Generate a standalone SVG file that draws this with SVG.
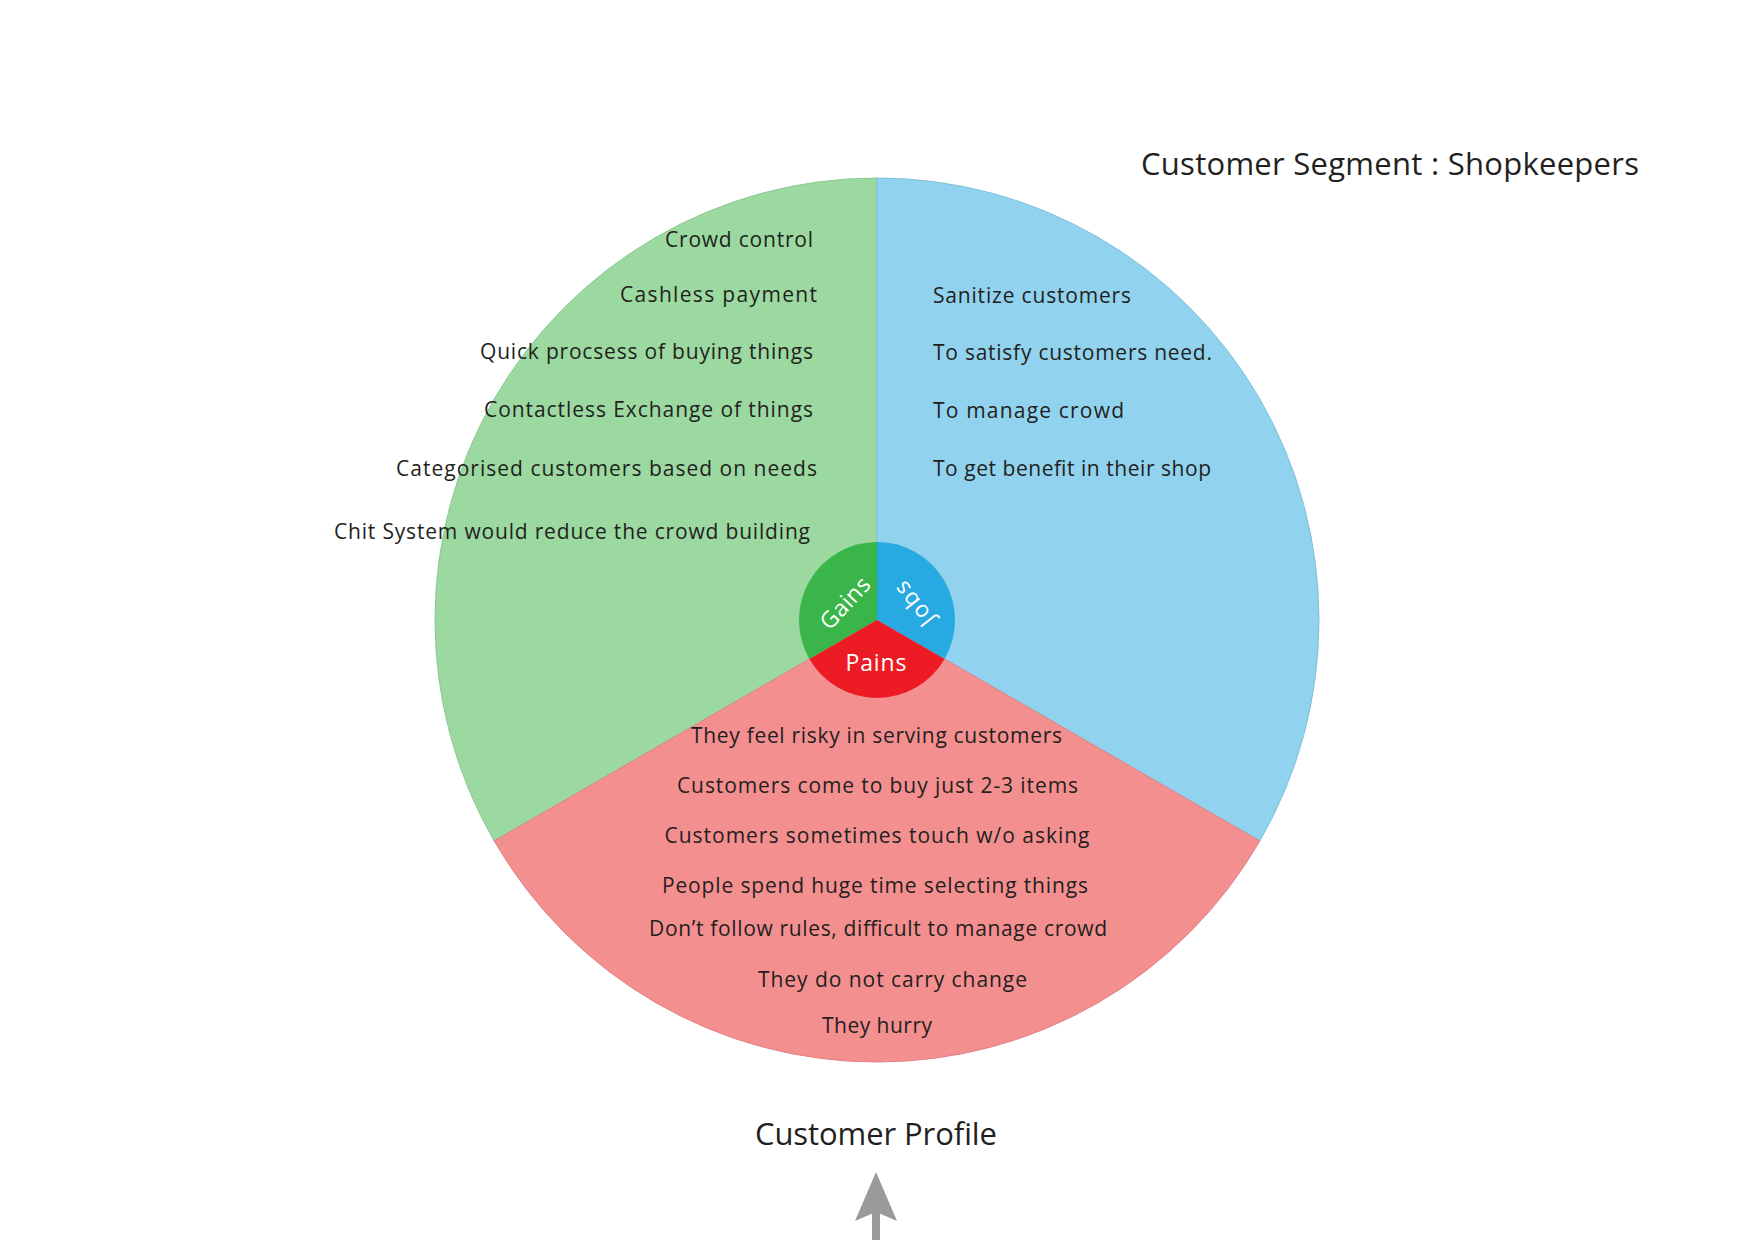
<svg xmlns="http://www.w3.org/2000/svg" width="1754" height="1240" viewBox="0 0 1754 1240">
<style>
  .t { font-family: "Open Sans", "Liberation Sans", sans-serif; font-size: 21px; fill: #231F20; }
  .h { font-family: "Open Sans", "Liberation Sans", sans-serif; font-size: 31px; fill: #231F20; }
  .w { font-family: "Open Sans", "Liberation Sans", sans-serif; font-size: 23px; fill: #FFFFFF; text-anchor: middle; }
  .e { text-anchor: end; }
  .m { text-anchor: middle; }
</style>
<rect width="1754" height="1240" fill="#FFFFFF"/>

<g id="title">
  <text class="h" x="1141" y="175" font-size="32" textLength="498">Customer Segment : Shopkeepers</text>
</g>

<g id="gains">
  <path d="M877,620 L877,178 A442,442 0 0 0 494.2,841 Z" fill="#9BD9A0" stroke="#8CC994" stroke-width="1"/>
  <text class="t e" x="813" y="247" textLength="148">Crowd control</text>
  <text class="t e" x="817" y="302" textLength="197">Cashless payment</text>
  <text class="t e" x="813" y="359" textLength="333">Quick procsess of buying things</text>
  <text class="t e" x="813" y="417" textLength="329">Contactless Exchange of things</text>
  <text class="t e" x="817" y="476" textLength="421">Categorised customers based on needs</text>
  <text class="t e" x="810" y="539" textLength="476">Chit System would reduce the crowd building</text>
</g>

<g id="jobs">
  <path d="M877,620 L877,178 A442,442 0 0 1 1259.8,841 Z" fill="#91D3EE" stroke="#7FC0DC" stroke-width="1"/>
  <text class="t" x="933" y="303" textLength="198">Sanitize customers</text>
  <text class="t" x="933" y="360" textLength="279">To satisfy customers need.</text>
  <text class="t" x="933" y="418" textLength="191">To manage crowd</text>
  <text class="t" x="933" y="476" textLength="278">To get benefit in their shop</text>
</g>

<g id="pains">
  <path d="M877,620 L1259.8,841 A442,442 0 0 1 494.2,841 Z" fill="#F48F90" stroke="#E08285" stroke-width="1"/>
  <text class="t m" x="876.5" y="743" textLength="371">They feel risky in serving customers</text>
  <text class="t m" x="877.5" y="793" textLength="401">Customers come to buy just 2-3 items</text>
  <text class="t m" x="877" y="843" textLength="425">Customers sometimes touch w/o asking</text>
  <text class="t m" x="875" y="893" textLength="426">People spend huge time selecting things</text>
  <text class="t m" x="878" y="936" textLength="458">Don’t follow rules, difficult to manage crowd</text>
  <text class="t m" x="892.5" y="987" textLength="269">They do not carry change</text>
  <text class="t m" x="877" y="1033" textLength="110">They hurry</text>
</g>

<g id="hub">
  <g id="hub-gains">
    <path d="M877,620 L877,542 A78,78 0 0 0 809.45,659 Z" fill="#3AB54A"/>
    <text class="w" transform="translate(845,603) rotate(-47)" x="0" y="8" textLength="62">Gains</text>
  </g>
  <g id="hub-jobs">
    <path d="M877,620 L877,542 A78,78 0 0 1 944.55,659 Z" fill="#27AAE1"/>
    <text class="w" transform="translate(914,604) rotate(-128)" x="0" y="8" textLength="50">Jobs</text>
  </g>
  <g id="hub-pains">
    <path d="M877,620 L944.55,659 A78,78 0 0 1 809.45,659 Z" fill="#ED1C24"/>
    <text class="w" x="876" y="671" textLength="61">Pains</text>
  </g>
</g>

<g id="profile">
  <text class="h m" x="876" y="1145" textLength="242">Customer Profile</text>
</g>

<g id="connectors">
  <rect x="872" y="1210" width="8" height="30" fill="#9A9A9A"/>
  <path d="M876,1172 L897,1221 L876,1212 L855,1221 Z" fill="#9A9A9A"/>
</g>
</svg>
